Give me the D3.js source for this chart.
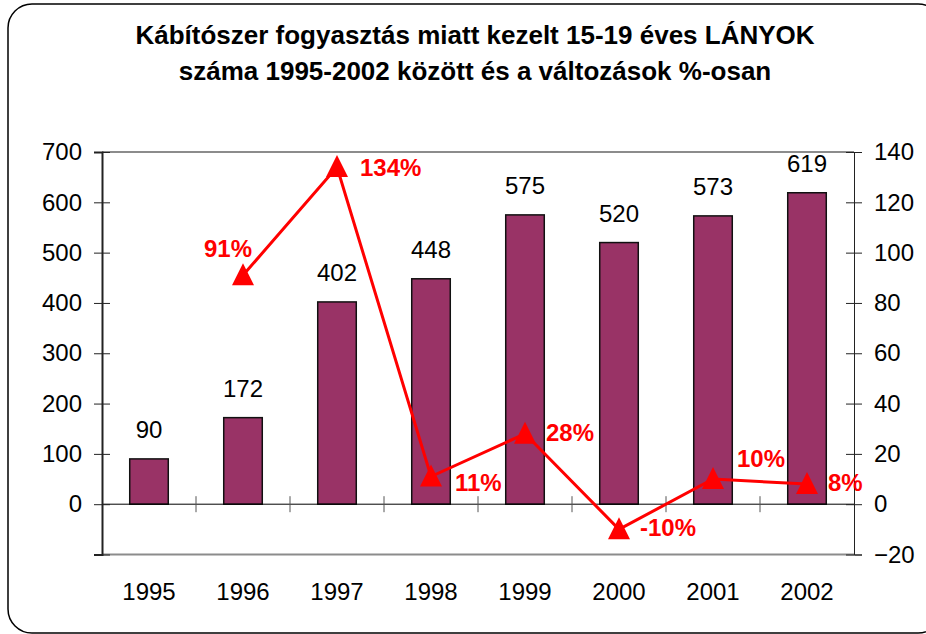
<!DOCTYPE html>
<html>
<head>
<meta charset="utf-8">
<script src="https://cdn.jsdelivr.net/npm/d3@7"></script>
<style>
    body { margin: 0; background: #ffffff; }
    svg { display: block; font-family: 'Liberation Sans', Arial, sans-serif; }
</style>
</head>
<body>
<svg id="chart" width="926" height="634"></svg>
<script>

var title_lines = [
    'Kábítószer fogyasztás miatt kezelt 15-19 éves LÁNYOK',
    'száma 1995-2002 között és a változások %-osan'
];

var years = [ '1995', '1996', '1997', '1998', '1999', '2000', '2001', '2002' ];

var counts = [ 90, 172, 402, 448, 575, 520, 573, 619 ];

var changes = [ null, 91, 134, 11, 28, -10, 10, 8 ];

var left_ticks = [ 0, 100, 200, 300, 400, 500, 600, 700 ];

var right_ticks = [ -20, 0, 20, 40, 60, 80, 100, 120, 140 ];

// where each % label sits relative to its marker
var label_offsets = [
    null,
    { dx: 9, dy: -18, anchor: 'end' },
    { dx: 23, dy: 9, anchor: 'start' },
    { dx: 24, dy: 14, anchor: 'start' },
    { dx: 21, dy: 7, anchor: 'start' },
    { dx: 21, dy: 7, anchor: 'start' },
    { dx: 24, dy: -12, anchor: 'start' },
    { dx: 21, dy: 7, anchor: 'start' }
];

draw_chart();

function draw_chart () {

    var svg = d3.select( '#chart' );

    var left = 102;
    var right = 854;
    var top = 152;
    var bottom = 554.5;

    var x = d3.scaleBand()
        .domain( years )
        .range( [ left, right ] )
        .paddingInner( 0.59 )
        .paddingOuter( 0.295 );

    var y = d3.scaleLinear()
        .domain( [ -100, 700 ] )
        .range( [ bottom, top ] );

    var y2 = d3.scaleLinear()
        .domain( [ -20, 140 ] )
        .range( [ bottom, top ] );

    var step = ( right - left ) / years.length;

    // Outer frame
    svg.append( 'rect' )
        .attr( 'x', 8 )
        .attr( 'y', 4 )
        .attr( 'width', 934 )
        .attr( 'height', 629 )
        .attr( 'rx', 24 )
        .attr( 'fill', 'none' )
        .attr( 'stroke', '#000' )
        .attr( 'stroke-width', 1.5 );

    // Title
    svg.append( 'g' )
        .attr( 'font-weight', 'bold' )
        .attr( 'font-size', '26px' )
        .attr( 'fill', '#000' )
        .attr( 'text-anchor', 'middle' )
        .selectAll( 'text' )
        .data( title_lines )
        .enter().append( 'text' )
        .attr( 'x', 475 )
        .attr( 'y', function ( d, i ) { return 44 + i * 36; } )
        .text( function ( d ) { return d; } );

    // Plot border top and bottom
    svg.append( 'line' )
        .attr( 'x1', left ).attr( 'x2', right )
        .attr( 'y1', top ).attr( 'y2', top )
        .attr( 'stroke', '#8c8c8c' )
        .attr( 'stroke-width', 2 );

    svg.append( 'line' )
        .attr( 'x1', left ).attr( 'x2', right )
        .attr( 'y1', bottom ).attr( 'y2', bottom )
        .attr( 'stroke', '#8c8c8c' )
        .attr( 'stroke-width', 2 );

    // Bars
    svg.append( 'g' )
        .selectAll( 'rect' )
        .data( counts )
        .enter().append( 'rect' )
        .attr( 'x', function ( d, i ) { return x( years[ i ] ); } )
        .attr( 'y', function ( d ) { return y( d ); } )
        .attr( 'width', x.bandwidth() )
        .attr( 'height', function ( d ) { return y( 0 ) - y( d ); } )
        .attr( 'fill', '#993366' )
        .attr( 'stroke', '#111' )
        .attr( 'stroke-width', 1.5 );

    // Zero line with category ticks
    svg.append( 'line' )
        .attr( 'x1', left ).attr( 'x2', right )
        .attr( 'y1', y( 0 ) ).attr( 'y2', y( 0 ) )
        .attr( 'stroke', '#000' )
        .attr( 'stroke-width', 1 );

    svg.append( 'g' )
        .selectAll( 'line' )
        .data( d3.range( 1, years.length ) )
        .enter().append( 'line' )
        .attr( 'x1', function ( d ) { return left + d * step; } )
        .attr( 'x2', function ( d ) { return left + d * step; } )
        .attr( 'y1', y( 0 ) - 8 )
        .attr( 'y2', y( 0 ) + 8 )
        .attr( 'stroke', '#555' )
        .attr( 'stroke-width', 1 );

    // Left axis
    var left_axis = svg.append( 'g' )
        .attr( 'transform', 'translate(' + left + ',0)' )
        .call( d3.axisLeft( y )
            .tickValues( left_ticks.concat( [ -100 ] ) )
            .tickSize( 8 )
            .tickPadding( 12 )
            .tickFormat( function ( d ) { return d < 0 ? '' : d; } ) );

    style_axis( left_axis, 2 );
    left_axis.selectAll( '.tick line' ).attr( 'x2', -8 ).attr( 'x1', 8 );

    // Right axis
    var right_axis = svg.append( 'g' )
        .attr( 'transform', 'translate(' + right + ',0)' )
        .call( d3.axisRight( y2 )
            .tickValues( right_ticks )
            .tickSize( 8 )
            .tickPadding( 12 ) );

    style_axis( right_axis, 1 );
    right_axis.selectAll( '.tick line' ).attr( 'x1', -8 ).attr( 'x2', 8 );

    // Category labels
    svg.append( 'g' )
        .selectAll( 'text' )
        .data( years )
        .enter().append( 'text' )
        .attr( 'x', function ( d ) { return x( d ) + x.bandwidth() / 2; } )
        .attr( 'y', 600 )
        .attr( 'text-anchor', 'middle' )
        .attr( 'font-size', '24px' )
        .attr( 'fill', '#000' )
        .text( function ( d ) { return d; } );

    // Bar values
    svg.append( 'g' )
        .selectAll( 'text' )
        .data( counts )
        .enter().append( 'text' )
        .attr( 'x', function ( d, i ) { return x( years[ i ] ) + x.bandwidth() / 2; } )
        .attr( 'y', function ( d ) { return y( d ) - 21; } )
        .attr( 'text-anchor', 'middle' )
        .attr( 'font-size', '24px' )
        .attr( 'fill', '#000' )
        .text( function ( d ) { return d; } );

    // Change line
    var points = changes
        .map( function ( d, i ) { return { value: d, year: years[ i ], index: i }; } )
        .filter( function ( d ) { return d.value !== null; } );

    var line = d3.line()
        .x( function ( d ) { return x( d.year ) + x.bandwidth() / 2; } )
        .y( function ( d ) { return y2( d.value ); } );

    svg.append( 'path' )
        .datum( points )
        .attr( 'd', line )
        .attr( 'fill', 'none' )
        .attr( 'stroke', '#ff0000' )
        .attr( 'stroke-width', 3 )
        .attr( 'stroke-linejoin', 'miter' );

    svg.append( 'g' )
        .selectAll( 'path' )
        .data( points )
        .enter().append( 'path' )
        .attr( 'd', 'M0,-11L11,11L-11,11Z' )
        .attr( 'transform', function ( d ) {
            return 'translate(' + ( x( d.year ) + x.bandwidth() / 2 ) + ',' + ( y2( d.value ) - 1 ) + ')';
        })
        .attr( 'fill', '#ff0000' );

    svg.append( 'g' )
        .selectAll( 'text' )
        .data( points )
        .enter().append( 'text' )
        .attr( 'x', function ( d ) { return x( d.year ) + x.bandwidth() / 2 + label_offsets[ d.index ].dx; } )
        .attr( 'y', function ( d ) { return y2( d.value ) + label_offsets[ d.index ].dy; } )
        .attr( 'text-anchor', function ( d ) { return label_offsets[ d.index ].anchor; } )
        .attr( 'font-size', '24px' )
        .attr( 'font-weight', 'bold' )
        .attr( 'fill', '#ff0000' )
        .text( function ( d ) { return d.value + '%'; } );

}

function style_axis ( axis, width ) {

    axis.select( '.domain' )
        .attr( 'stroke', '#222' )
        .attr( 'stroke-width', width );

    axis.selectAll( '.tick line' )
        .attr( 'stroke', '#222' )
        .attr( 'stroke-width', 1 );

    axis.selectAll( '.tick text' )
        .attr( 'font-size', '24px' )
        .attr( 'font-family', "'Liberation Sans', Arial, sans-serif" )
        .attr( 'fill', '#000' );

}

</script>
</body>
</html>
